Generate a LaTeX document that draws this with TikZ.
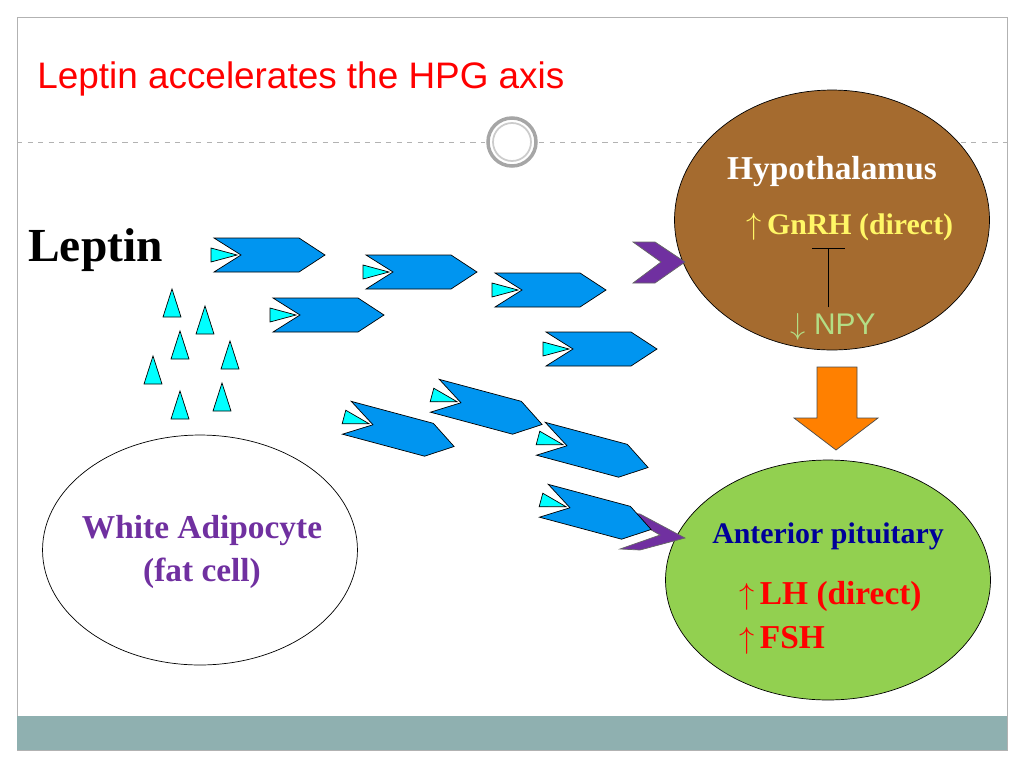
\documentclass[tikz,border=0pt]{standalone}
\usepackage{fontspec}
\setmainfont{Liberation Serif}
\newfontfamily\titlefont{Liberation Sans}
\usetikzlibrary{positioning,shapes.geometric}
\definecolor{brownhyp}{HTML}{A56B2F}
\definecolor{greenpit}{HTML}{92D050}
\definecolor{chevblue}{HTML}{0095F0}
\definecolor{recep}{HTML}{00FFFF}
\definecolor{purp}{HTML}{7030A0}
\definecolor{barcol}{HTML}{8FB0B0}
\tikzset{
  leptinbox/.pic={
    \draw[black,fill=chevblue] (-55,-17) -- (30,-17) -- (56,0) -- (30,17) -- (-55,17) -- (-28,0) -- cycle;
    \draw[black,fill=recep] (-58,-7) -- (-58,7) -- (-32,0) -- cycle;
  },
  gland/.style={ellipse,draw=black,inner sep=0pt},
  freelep/.style={draw=black,fill=recep},
}
\begin{document}
\begin{tikzpicture}[x=0.02cm,y=-0.02cm]
		\useasboundingbox (0,0) rectangle (1024,768);
		\draw[gray!60] (17,17) rectangle (1007,750);
		\fill[barcol] (17,716) rectangle (1007,750);
		\draw[gray!60,dashed] (17,142) -- (485,142);
		\draw[gray!60,dashed] (539,142) -- (1007,142);
		\draw[gray!70,line width=2pt] (512,142) circle (24);
		\draw[gray!40,line width=1pt] (512,142) circle (19);
		\node[anchor=base west,text=red,font=\titlefont\fontsize{21}{24}\selectfont,inner sep=0pt] (title) at (37,88) {Leptin accelerates the HPG axis};
		
		% glands
		\node[gland,fill=brownhyp,minimum width=6.3cm,minimum height=5.2cm] (hyp) at (832,220) {};
		\node[gland,fill=greenpit,minimum width=6.5cm,minimum height=4.8cm] (pit) at (828,580) {};
		\node[gland,minimum width=6.3cm,minimum height=4.6cm] (cell) at (200,550) {};
		
		\node[text=white,font=\bfseries\fontsize{19}{22}\selectfont] (hyptxt) at (832,172) {Hypothalamus};
		\node[text=yellow!60!white,font=\bfseries\fontsize{17}{20}\selectfont] (gnrh) at (850,227) {$\uparrow$\,GnRH (direct)};
		\node[text=greenpit!70!white,font=\titlefont\fontsize{17}{20}\selectfont] (npy) at (833,327) {$\downarrow$ NPY};
		\coordinate (bar) at (828,248);
		\draw[black] (npy.north -| bar) -- (bar);
		\draw[black] (812,248) -- (845,248);
		
		\node[text=blue!60!black,font=\bfseries\fontsize{17}{20}\selectfont] (pittxt) at (828,536) {Anterior pituitary};
		\node[text=red,font=\bfseries\fontsize{19}{22}\selectfont,anchor=west] (lh) at (733,596) {$\uparrow$\,LH (direct)};
		\node[text=red,font=\bfseries\fontsize{19}{22}\selectfont,anchor=west] (fsh) at (733,640) {$\uparrow$\,FSH};
		
		\node[text=purp,font=\bfseries\fontsize{19}{22}\selectfont,align=center] (fat) at (202,552) {White Adipocyte\\[2pt](fat cell)};
		\node[font=\bfseries\fontsize{27}{30}\selectfont,anchor=west,inner sep=0pt] (leptin) at (28,250) {Leptin};
		
		% orange arrow
		\draw[black!70,fill=orange] (817,367) -- (857,367) -- (857,418) -- (878,418) -- (836,450) -- (794,418) -- (817,418) -- cycle;
		
		% purple receptors
		\fill[purp,draw=black!60] (633,242) -- (655,242) -- (685,262) -- (655,283) -- (633,283) -- (661,262) -- cycle;
		\fill[purp,draw=black!60] (620,512) -- (640,514) -- (685,538) -- (640,550) -- (620,549) -- (660,535) -- cycle;
		
		% free leptin
		\foreach \x/\y in {172/303,205/320,180/345,230/355,153/370,180/405,222/397}
		  \draw[freelep] (\x-9,\y+14) -- (\x+9,\y+14) -- (\x,\y-14) -- cycle;
		
		% bound leptin
		\pic at (269,255) {leptinbox};
		\pic at (421,272) {leptinbox};
		\pic at (550,290) {leptinbox};
		\pic at (328,315) {leptinbox};
		\pic at (601,349) {leptinbox};
		\pic[rotate=-15] at (400,432) {leptinbox};
		\pic[rotate=-15] at (488,410) {leptinbox};
		\pic[rotate=-15] at (594,453) {leptinbox};
		\pic[rotate=-15] at (597,515) {leptinbox};
		\end{tikzpicture}
\end{document}
